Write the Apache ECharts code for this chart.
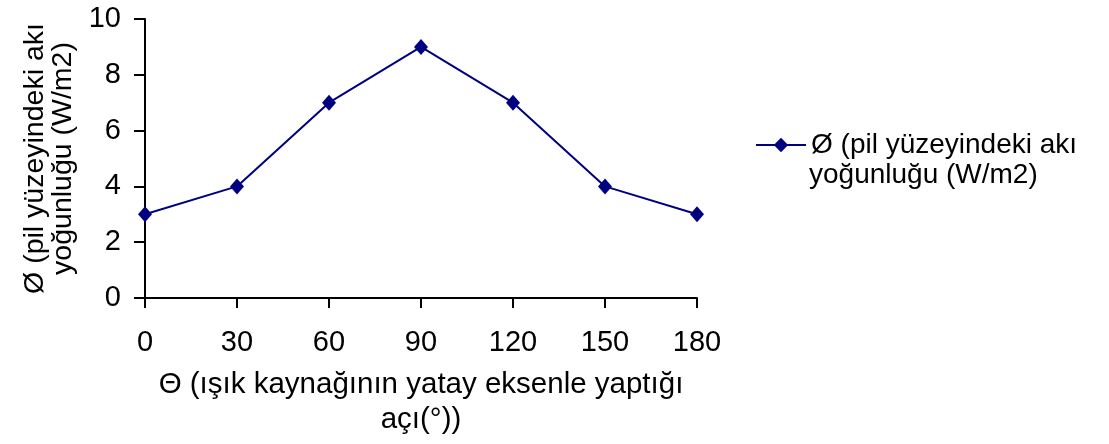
<!DOCTYPE html>
<html><head><meta charset="utf-8">
<script src="https://cdn.jsdelivr.net/npm/echarts@6/dist/echarts.min.js"></script>
<style>html,body{margin:0;padding:0;background:#fff}#c{width:1109px;height:444px}</style>
</head><body><div id="c"></div>
<script>
const angles = [0, 30, 60, 90, 120, 150, 180];
const fluxValues = [3, 4, 7, 9, 7, 4, 3];
const seriesName = 'Ø (pil yüzeyindeki akı yoğunluğu (W/m2)';
const legendLine1 = 'Ø (pil yüzeyindeki akı';
const legendLine2 = 'yoğunluğu (W/m2)';
const xTitle = 'Θ (ışık kaynağının yatay eksenle yaptığı\naçı(°))';
const yTitle = 'Ø (pil yüzeyindeki akı\nyoğunluğu (W/m2)';
const font = 'Liberation Sans, Arial, sans-serif';
const fs = 28;
const chart = echarts.init(document.getElementById('c'));
chart.setOption({
  animation: false,
  backgroundColor: '#fff',
  textStyle: {fontFamily: font},
  grid: {left: 145, right: 412, top: 19, bottom: 146, containLabel: false},
  xAxis: {
    type: 'value', min: 0, max: 180, interval: 30,
    axisLine: {show: true, lineStyle: {color: '#000', width: 2}},
    axisTick: {show: true, length: 10, inside: false, lineStyle: {color: '#000', width: 2}},
    axisLabel: {color: '#000', fontSize: 29, margin: 30, fontFamily: font},
    splitLine: {show: false},
    name: xTitle, nameLocation: 'middle', nameGap: 69,
    nameTextStyle: {color: '#000', fontSize: 29.5, fontFamily: font, lineHeight: 35, verticalAlign: 'top', align: 'center'}
  },
  yAxis: {
    type: 'value', min: 0, max: 10, interval: 2,
    axisLine: {show: true, lineStyle: {color: '#000', width: 2}},
    axisTick: {show: true, length: 11, lineStyle: {color: '#000', width: 2}},
    axisLabel: {color: '#000', fontSize: 29, margin: 24, fontFamily: font},
    splitLine: {show: false},
    name: yTitle, nameLocation: 'middle', nameGap: 68, nameRotate: 90,
    nameTextStyle: {color: '#000', fontSize: 28.5, fontFamily: font, lineHeight: 28}
  },
  legend: {
    show: true, orient: 'vertical', left: 750, top: 125,
    itemWidth: 50, itemHeight: 18,
    formatter: function(){ return legendLine1; },
    textStyle: {color: '#000', fontSize: fs, fontFamily: font, lineHeight: 30}
  },
  graphic: [{
    type: 'text', left: 809, top: 161,
    style: {text: legendLine2, fill: '#000', font: fs + 'px ' + font}
  }],
  series: [{
    name: seriesName, type: 'line',
    data: angles.map((a, i) => [a, fluxValues[i]]),
    symbol: 'diamond', symbolSize: [14, 16],
    lineStyle: {color: '#000080', width: 2},
    itemStyle: {color: '#000080'}
  }]
});
</script></body></html>
